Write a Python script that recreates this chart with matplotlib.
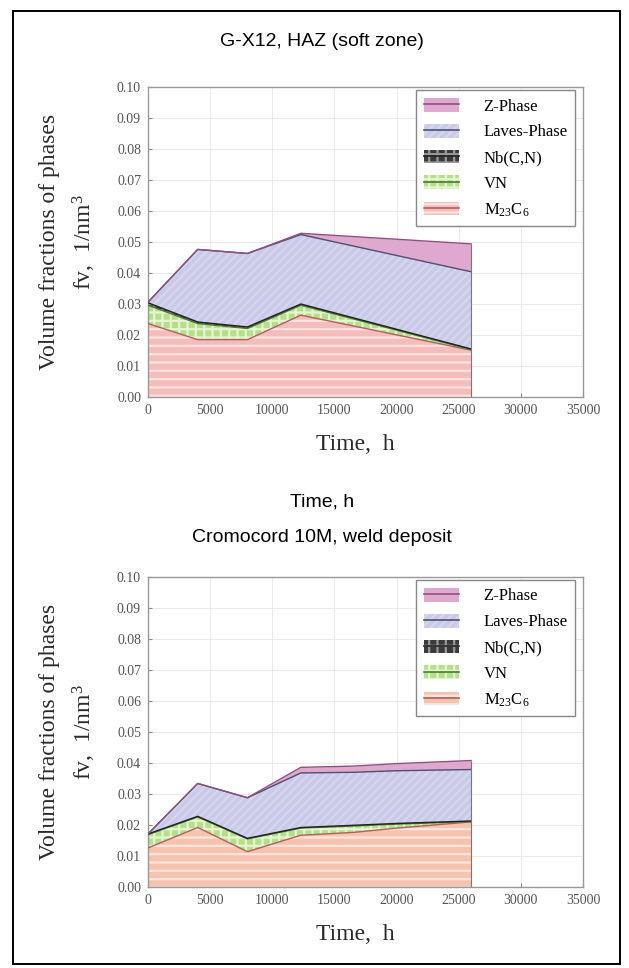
import numpy as np
import matplotlib
matplotlib.use("Agg")
import matplotlib.pyplot as plt
from matplotlib.patches import Patch, Rectangle
from matplotlib.lines import Line2D

plt.rcParams["font.family"] = ["Liberation Serif", "DejaVu Serif"]
plt.rcParams["mathtext.default"] = "regular"
plt.rcParams["hatch.linewidth"] = 1.6

# phase names (bottom -> top of the stack)
phases = ["M$_{23}$C$_6$", "VN", "Nb(C,N)", "Laves-Phase", "Z-Phase"]

# G-X12, HAZ (soft zone)
t_haz = [0, 4000, 8000, 12300, 26000]
m23c6_haz = [0.0237, 0.0185, 0.0185, 0.0264, 0.0151]
vn_haz = [0.0059, 0.0052, 0.0036, 0.0032, 0.0002]
nbcn_haz = [0.0008, 0.0005, 0.0005, 0.0004, 0.0002]
laves_haz = [0.0002, 0.0234, 0.0237, 0.0224, 0.0249]
z_haz = [0.0, 0.0, 0.0, 0.0004, 0.0090]

# Cromocord 10M, weld deposit
t_weld = [0, 4000, 8000, 12300, 16500, 20000, 26000]
m23c6_weld = [0.0126, 0.0192, 0.0114, 0.0167, 0.0176, 0.0190, 0.0210]
vn_weld = [0.0043, 0.0034, 0.0041, 0.0023, 0.0021, 0.0013, 0.0001]
nbcn_weld = [0.0002, 0.0002, 0.0002, 0.0002, 0.0002, 0.0002, 0.0002]
laves_weld = [0.0, 0.0106, 0.0131, 0.0176, 0.0171, 0.0170, 0.0166]
z_weld = [0.0, 0.0, 0.0, 0.0018, 0.0020, 0.0023, 0.0029]

# face, hatch colour, hatch, boundary line
styles = [
    ("#f5bcbc", "#fbe4e0", "--", "#b06060"),
    ("#b5df8c", "#e4f5d0", "++", "#4a7a30"),
    ("#3a3a3a", "#9a9a9a", "++", "#222222"),
    ("#c9c9e8", "#d6d6ef", "////", "#505070"),
    ("#dfa8cf", "#dfa8cf", None, "#905080"),
]

W, H = 629, 968
fig = plt.figure(figsize=(W / 100, H / 100), dpi=100)


def fx(x):
    return x / W


def fy(y):
    return 1 - y / H


fig.patches.append(Rectangle((fx(13), fy(964)), fx(620) - fx(13), fy(11) - fy(964),
                             transform=fig.transFigure, fill=False,
                             edgecolor="black", linewidth=1.4))


def panel(top_px, t, layers, m_face):
    ax = fig.add_axes([fx(148), fy(top_px + 310), fx(583) - fx(148), 310 / H])
    bottom = np.zeros(len(t))
    for i, (vals, st) in enumerate(zip(layers, styles)):
        face, hcol, hatch, edge = st
        if i == 0:
            face = m_face
        top = bottom + np.array(vals)
        ax.fill_between(t, bottom, top, facecolor=face, edgecolor=hcol,
                        hatch=hatch, linewidth=0, zorder=2)
        ax.plot(t, top, color=edge, lw=1.0, zorder=3)
        bottom = top
    ax.vlines(t[-1], 0, bottom[-1], color="#777777", lw=0.8, zorder=3)

    ax.set_xlim(0, 35000)
    ax.set_ylim(0, 0.10)
    ax.set_xticks(np.arange(0, 35001, 5000))
    ax.set_yticks(np.arange(0, 0.1001, 0.01))
    ax.set_yticklabels([f"{v:.2f}" for v in np.arange(0, 0.1001, 0.01)])
    ax.grid(True, color="#e6e6e6", lw=0.6, zorder=0)
    ax.set_axisbelow(True)
    ax.tick_params(direction="in", length=3, colors="#888888", labelcolor="#555555",
                   labelsize=10)
    ax.tick_params(axis="x", pad=5)
    ax.tick_params(axis="y", pad=5)
    for s in ax.spines.values():
        s.set_color("#999999")
        s.set_linewidth(1.0)

    handles = []
    for i, st in enumerate(styles):
        face, hcol, hatch, edge = st
        if i == 0:
            face = m_face
        handles.append((Patch(facecolor=face, edgecolor=hcol, hatch=hatch, linewidth=0),
                        Line2D([], [], color=edge, lw=1.2)))
    leg = ax.legend(handles[::-1], phases[::-1], loc="upper right",
                    bbox_to_anchor=(0.99, 1.0), fontsize=12, frameon=True,
                    fancybox=False, edgecolor="#888888", framealpha=1,
                    handlelength=2.1, handleheight=0.9, handletextpad=1.5,
                    labelspacing=0.55, borderpad=0.45, borderaxespad=0.2)
    leg.get_frame().set_linewidth(1.0)
    leg.set_zorder(5)

    mid = top_px + 155
    fig.text(fx(50), fy(mid), "Volume fractions of phases", rotation=90,
             ha="center", va="center", fontsize=17, color="#2a2a2a")
    fig.text(fx(84), fy(mid), "fv,  1/nm$^3$", rotation=90,
             ha="center", va="center", fontsize=17, color="#2a2a2a")
    fig.text(fx(355), fy(top_px + 358), "Time,  h", ha="center", va="center",
             fontsize=17, color="#2a2a2a")
    return ax


panel(87, t_haz, [m23c6_haz, vn_haz, nbcn_haz, laves_haz, z_haz], "#f5bcbc")
panel(577, t_weld, [m23c6_weld, vn_weld, nbcn_weld, laves_weld, z_weld], "#f6c3ae")

sans = ["Liberation Sans", "DejaVu Sans"]
fig.text(fx(322), fy(42), "G-X12, HAZ (soft zone)", ha="center", va="center",
         fontsize=14, family=sans)
fig.text(fx(322), fy(502), "Time, h", ha="center", va="center", fontsize=14, family=sans)
fig.text(fx(322), fy(537), "Cromocord 10M, weld deposit", ha="center", va="center",
         fontsize=14, family=sans)

fig.savefig("out.png", dpi=100)
